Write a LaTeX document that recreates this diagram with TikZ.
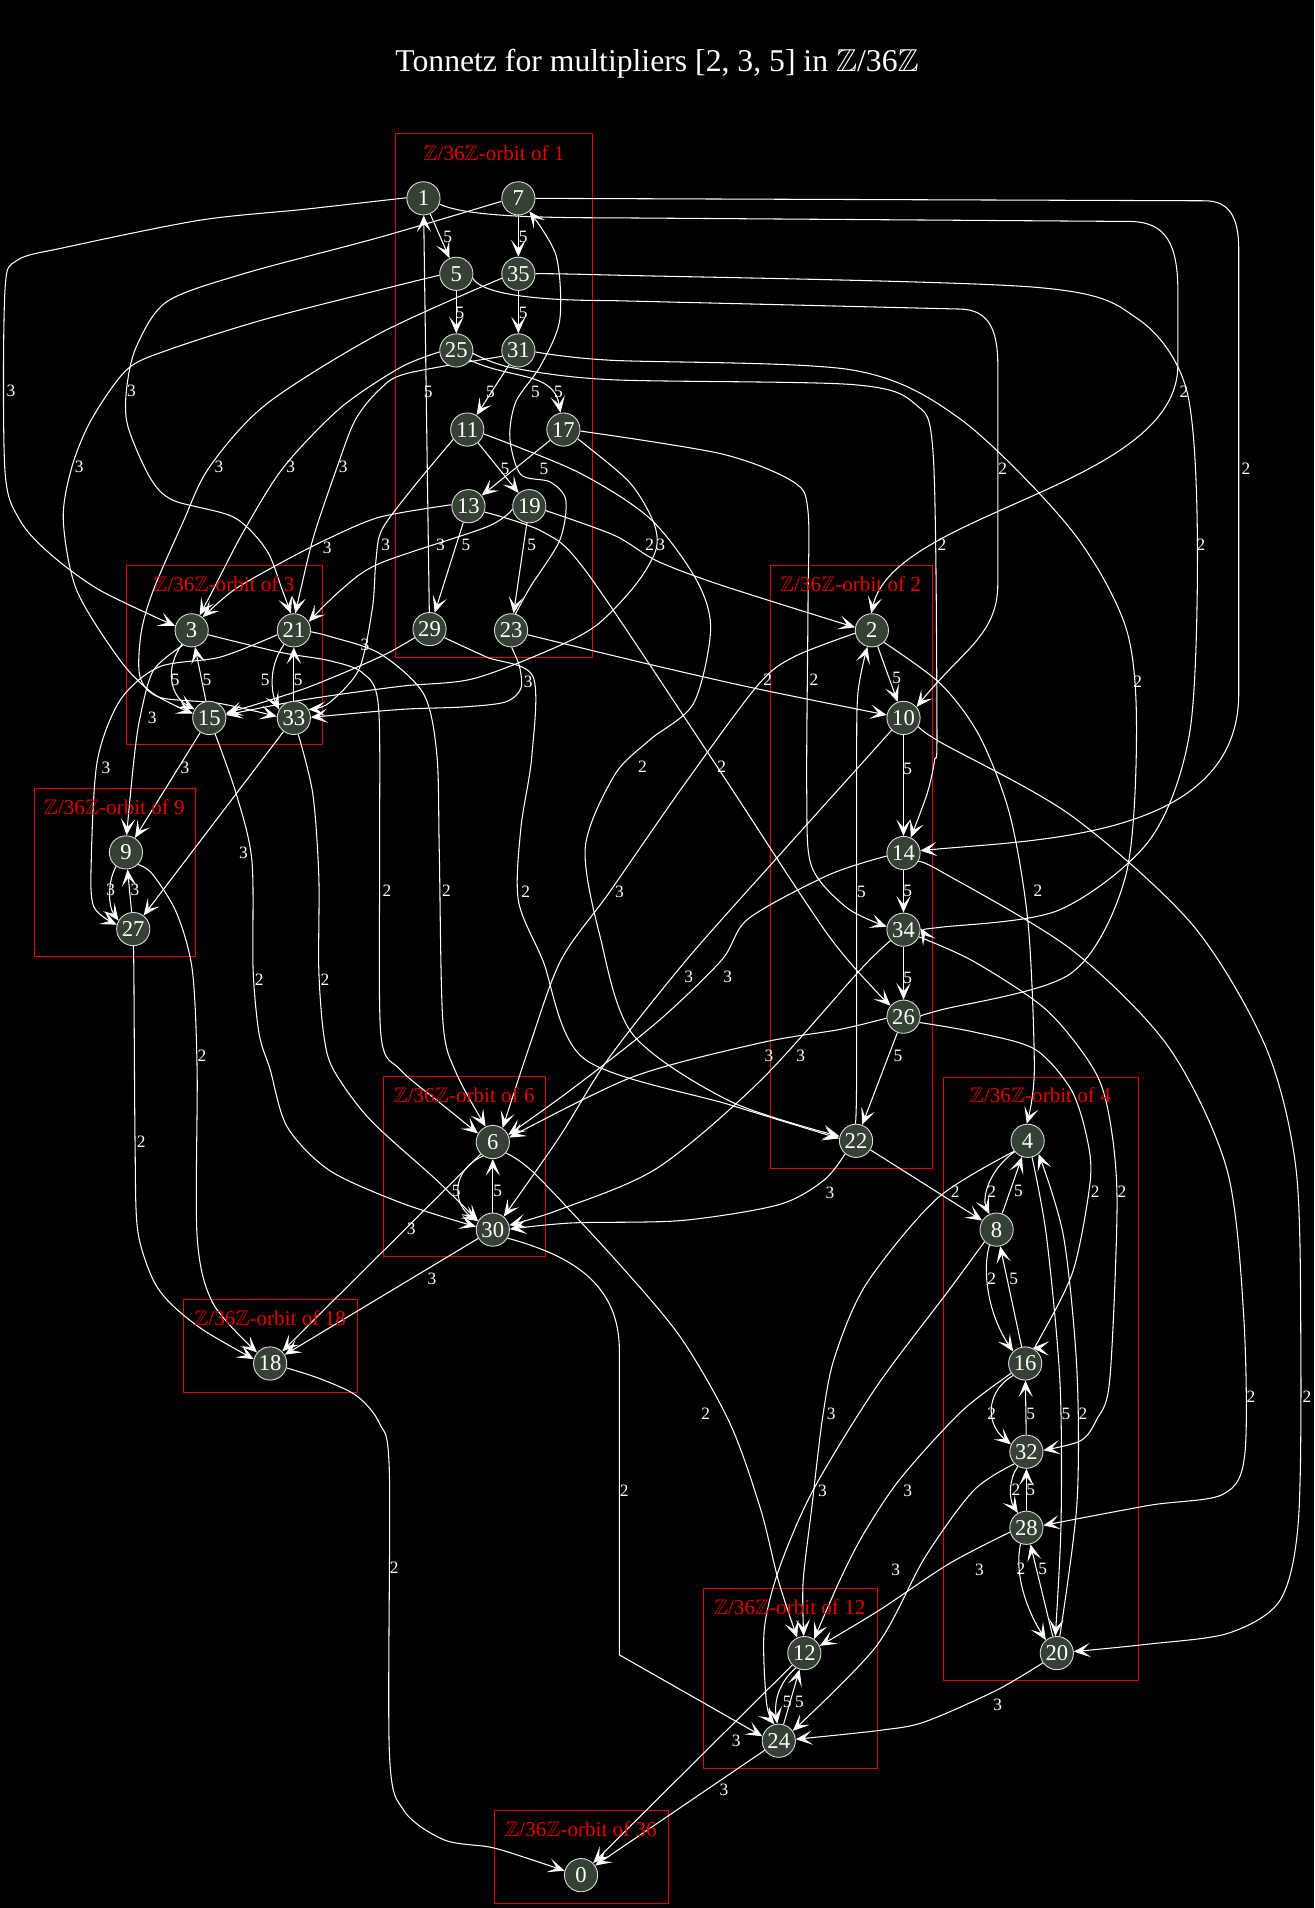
\documentclass[tikz,border=0pt]{standalone}
\usepackage{amssymb}
\usepackage{fontspec}
\setmainfont{Liberation Serif}
\usetikzlibrary{arrows.meta}
\definecolor{ngreen}{RGB}{52,66,52}
\definecolor{clred}{RGB}{230,0,0}
\newcommand{\myZ}{$\mathbb{Z}$}
\pgfdeclarelayer{bgl}
\pgfdeclarelayer{edgel}
\pgfsetlayers{bgl,edgel,main}
\tikzset{
  orbnode/.style={circle, draw=white!85!black, fill=ngreen, text=white, minimum size=22pt, inner sep=0pt, line width=0.6pt, font=\fontsize{15}{17}\selectfont},
  edg/.style={draw=white, line width=0.7pt, -{Stealth[length=11pt,width=9.5pt,inset=5.5pt]}},
  elab/.style={text=white, inner sep=0pt, font=\fontsize{11.5}{13}\selectfont},
  clus/.style={draw=clred, line width=0.7pt},
  cluslab/.style={text=clred, inner sep=0pt, font=\fontsize{14}{16}\selectfont},
  ttl/.style={text=white, inner sep=0pt, font=\fontsize{21}{24}\selectfont}
}
\begin{document}
\begin{tikzpicture}[x=0.806pt,y=-0.806pt]
\useasboundingbox (0,0) rectangle (1080,1568);
\begin{pgfonlayer}{bgl}
\fill[black] (0,0) rectangle (1080,1568);
\draw[clus] (325,110) rectangle (487,540);
\draw[clus] (104,465) rectangle (265,612);
\draw[clus] (28,648) rectangle (161,786);
\draw[clus] (633.5,465) rectangle (766.5,960);
\draw[clus] (775,885.5) rectangle (936,1381);
\draw[clus] (315,885) rectangle (448.5,1032.5);
\draw[clus] (150.5,1068) rectangle (293.5,1144);
\draw[clus] (578,1305.5) rectangle (721,1453);
\draw[clus] (406,1488) rectangle (549.5,1564);
\end{pgfonlayer}
\node[ttl] (title) at (540,52) {Tonnetz for multipliers [2, 3, 5] in \myZ/36\myZ};
\node[cluslab] (c1) at (406,126) {\myZ/36\myZ-orbit of 1};
\node[cluslab] (c3) at (184,480) {\myZ/36\myZ-orbit of 3};
\node[cluslab] (c9) at (94,663) {\myZ/36\myZ-orbit of 9};
\node[cluslab] (c2) at (699,480) {\myZ/36\myZ-orbit of 2};
\node[cluslab] (c4) at (855,900) {\myZ/36\myZ-orbit of 4};
\node[cluslab] (c6) at (381.5,900) {\myZ/36\myZ-orbit of 6};
\node[cluslab] (c18) at (222,1083.5) {\myZ/36\myZ-orbit of 18};
\node[cluslab] (c12) at (649,1320.5) {\myZ/36\myZ-orbit of 12};
\node[cluslab] (c36) at (477.5,1503.5) {\myZ/36\myZ-orbit of 36};
% nodes
\node[orbnode] (n1) at (348,163) {1};
\node[orbnode] (n7) at (426,163) {7};
\node[orbnode] (n5) at (375,225) {5};
\node[orbnode] (n35) at (426,225) {35};
\node[orbnode] (n25) at (375,288) {25};
\node[orbnode] (n31) at (426,288) {31};
\node[orbnode] (n11) at (384,353) {11};
\node[orbnode] (n17) at (463,353) {17};
\node[orbnode] (n13) at (385,416) {13};
\node[orbnode] (n19) at (435,416) {19};
\node[orbnode] (n29) at (353,517) {29};
\node[orbnode] (n23) at (420,518) {23};
\node[orbnode] (n3) at (157.5,518) {3};
\node[orbnode] (n21) at (241.5,518) {21};
\node[orbnode] (n15) at (172,590) {15};
\node[orbnode] (n33) at (241.5,590) {33};
\node[orbnode] (n9) at (103.5,700.5) {9};
\node[orbnode] (n27) at (109.5,763.5) {27};
\node[orbnode] (n2) at (716.5,518) {2};
\node[orbnode] (n10) at (742.5,590) {10};
\node[orbnode] (n14) at (742.5,701) {14};
\node[orbnode] (n34) at (742.5,764) {34};
\node[orbnode] (n26) at (742.5,835.5) {26};
\node[orbnode] (n22) at (703.5,937.5) {22};
\node[orbnode] (n4) at (844.5,937.5) {4};
\node[orbnode] (n8) at (819,1010.5) {8};
\node[orbnode] (n16) at (842.5,1120.5) {16};
\node[orbnode] (n32) at (843.5,1193) {32};
\node[orbnode] (n28) at (843.5,1255.5) {28};
\node[orbnode] (n20) at (868.5,1358.5) {20};
\node[orbnode] (n6) at (405,938.5) {6};
\node[orbnode] (n30) at (405,1010.5) {30};
\node[orbnode] (n18) at (222,1120.5) {18};
\node[orbnode] (n12) at (661,1358.5) {12};
\node[orbnode] (n24) at (640,1430.5) {24};
\node[orbnode] (n0) at (477.5,1541) {0};
\begin{pgfonlayer}{edgel}
% orbit 1, times 5
\draw[edg] (n1) -- (n5);
\draw[edg] (n7) -- (n35);
\draw[edg] (n5) -- (n25);
\draw[edg] (n35) -- (n31);
\draw[edg] (n31) -- (n11);
\draw[edg] (n25.-35) .. controls (420,312) and (455,305) .. (n17.100);
\draw[edg] (n11) -- (n19);
\draw[edg] (n17) -- (n13);
\draw[edg] (n13) -- (n29);
\draw[edg] (n19) -- (n23);
\draw[edg] (n29) -- (n1);
\draw[edg] plot[smooth] coordinates {(n23.75) (436,482) (460,444) (465,411) (452,396) (428,390) (419,360) (424,330) (444,301) (460,263) (457,210) (n7.-50)};
% units times 2
\draw[edg] (n1.-20) .. controls (380,176) and (420,179) .. (501,179) -- (930,182) .. controls (958,183) and (968,200) .. (968,240) -- (968,300) .. controls (968,400) and (735,420) .. (n2.92);
\draw[edg] (n7.0) -- (990,165) .. controls (1010,165) and (1018,178) .. (1018,205) -- (1018,570) .. controls (1018,690) and (850,690) .. (n14.8);
\draw[edg] (n5.-15) .. controls (395,240) and (430,247) .. (501,247) -- (790,254) .. controls (812,255) and (820,270) .. (820,300) -- (820,480) .. controls (820,522) and (790,535) .. (n10.40);
\draw[edg] plot[smooth] coordinates {(n35.0) (501,226) (850,236) (935,262) (975,320) (984,440) (978,600) (945,690) (870,748) (773,762) (n34.5)};
\draw[edg] plot[smooth] coordinates {(n25.-10) (420,302) (501,312) (700,316) (752,332) (767,375) (770,600) (768,625) (762,652) (n14.65)};
\draw[edg] plot[smooth] coordinates {(n31.-5) (501,296) (700,304) (790,345) (880,435) (925,515) (934,600) (925,720) (880,800) (773,830) (n26.5)};
\draw[edg] plot[smooth] coordinates {(n11.-15) (475,388) (534,426) (572,476) (584,517) (570,578) (534,608) (505,637) (481,696) (493,769) (520,850) (600,905) (n22.165)};
\draw[edg] plot[smooth] coordinates {(n13.-20) (446,437) (482,470) (588,628) (681,769) (n26.140)};
\draw[edg] plot[smooth] coordinates {(n17.-5) (593,373) (652,396) (664,420) (664,500) (663,652) (667,712) (696,746) (n34.170)};
\draw[edg] plot[smooth] coordinates {(n19.-15) (505,440) (540,461) (593,481) (n2.170)};
\draw[edg] plot[smooth] coordinates {(n23.-15) (534,546) (622,566) (n10.170)};
\draw[edg] plot[smooth] coordinates {(n29.-30) (400,540) (438,556) (437,622) (428,681) (426,740) (446,789) (480,870) (600,908) (n22.172)};
% units times 3
\draw[edg] plot[smooth] coordinates {(n1.178) (250,172) (164,181) (55,203) (14,214) (4,240) (4,386) (16,427) (41,455) (82,485) (n3.165)};
\draw[edg] plot[smooth] coordinates {(n7.190) (312,195) (200,225) (137,248) (112,285) (104,320) (105,350) (123,392) (142,411) (192,425) (219,452) (232,485) (n21.100)};
\draw[edg] plot[smooth] coordinates {(n5.185) (329,234) (219,262) (137,288) (104,304) (75,345) (59,384) (52,427) (63,485) (99,543) (126,570) (n15.165)};
\draw[edg] plot[smooth] coordinates {(n35.195) (312,274) (219,332) (172,384) (150,430) (126,485) (116,520) (115,556) (131,573) (180,578) (n33.175)};
\draw[edg] plot[smooth] coordinates {(n25.185) (329,302) (280,335) (233,384) (200,437) (175,485) (n3.62)};
\draw[edg] plot[smooth] coordinates {(n31.200) (334,307) (312,320) (292,345) (277,384) (258,440) (247,485) (n21.85)};
\draw[edg] plot[smooth] coordinates {(n11.215) (340,400) (314,435) (309,460) (306,500) (295,550) (270,578) (n33.30)};
\draw[edg] plot[smooth] coordinates {(n13.175) (312,425) (269,443) (230,463) (192,485) (n3.50)};
\draw[edg] plot[smooth] coordinates {(n19.190) (400,433) (312,463) (280,485) (n21.30)};
\draw[edg] plot[smooth] coordinates {(n17.-33) (517,396) (537,429) (539,452) (522,481) (490,514) (452,534) (388,558) (329,564) (250,575) (n15.10)};
\draw[edg] plot[smooth] coordinates {(n29.210) (312,540) (250,566) (n15.15)};
\draw[edg] plot[smooth] coordinates {(n23.-88) (427,548) (428,566) (415,577) (380,581) (329,583) (n33.2)};
% orbit 3
\draw[edg] (n3.235) .. controls (135,550) and (140,572) .. (n15.150);
\draw[edg] (n15) -- (n3);
\draw[edg] (n21.235) .. controls (219,550) and (224,572) .. (n33.150);
\draw[edg] (n33) -- (n21);
\draw[edg] plot[smooth] coordinates {(n3.240) (126,551) (115,590) (110,625) (n9.88)};
\draw[edg] (n15) -- (n9);
\draw[edg] plot[smooth] coordinates {(n21.195) (181,540) (131,548) (99,575) (80,625) (75,707) (77,745) (n27.165)};
\draw[edg] (n33) -- (n27);
\draw[edg] plot[smooth] coordinates {(n3.-15) (230,536) (271,543) (298,553) (311,580) (312,700) (313,850) (329,879) (360,905) (n6.150)};
\draw[edg] plot[smooth] coordinates {(n21.-5) (271,523) (312,537) (348,570) (359,620) (361,700) (364,840) (375,882) (n6.115)};
\draw[edg] plot[smooth] coordinates {(n15.-70) (194,652) (207,707) (208,797) (213,850) (222,879) (236,926) (271,962) (331,989) (n30.170)};
\draw[edg] plot[smooth] coordinates {(n33.-75) (257,652) (262,720) (262,797) (266,850) (274,879) (304,920) (359,970) (n30.150)};
% orbit 9
\draw[edg] (n9.235) .. controls (88,725) and (89,745) .. (n27.150);
\draw[edg] (n27) -- (n9);
\draw[edg] plot[smooth] coordinates {(n9.-45) (125,718) (145,750) (158,797) (162,880) (162,1016) (175,1071) (n18.140)};
\draw[edg] plot[smooth] coordinates {(n27.-90) (110,797) (111,940) (113,1010) (125,1050) (140,1071) (167,1093) (n18.165)};
% orbit 2 times 5
\draw[edg] (n2) -- (n10);
\draw[edg] (n10) -- (n14);
\draw[edg] (n14) -- (n34);
\draw[edg] (n34) -- (n26);
\draw[edg] (n26) -- (n22);
\draw[edg] plot[smooth] coordinates {(n22.92) (704,880) (704,640) (705,570) (n2.255)};
% orbit 2 times 2
\draw[edg] plot[smooth] coordinates {(n2.-45) (773,562) (805,605) (830,670) (845,760) (850,880) (n4.93)};
\draw[edg] plot[smooth] coordinates {(n10.-30) (773,610) (880,670) (980,760) (1040,860) (1065,960) (1069,1100) (1067,1250) (1052,1315) (1010,1342) (945,1351) (n20.5)};
\draw[edg] plot[smooth] coordinates {(n14.-30) (773,716) (880,780) (960,860) (1008,960) (1022,1080) (1023,1195) (1005,1228) (945,1237) (n28.8)};
\draw[edg] (n22) -- (n8);
\draw[edg] plot[smooth] coordinates {(n26.-20) (800,848) (850,862) (880,895) (893,934) (896,970) (882,1044) (855,1099) (n16.65)};
\draw[edg] plot[smooth] coordinates {(n34.-25) (800,790) (860,830) (899,879) (912,920) (918,989) (912,1134) (901,1167) (888,1184) (n32.5)};
% orbit 2 times 3
\draw[edg] plot[smooth] coordinates {(n2.190) (652,540) (622,564) (560,648) (501,733) (461,789) (435,860) (n6.55)};
\draw[edg] plot[smooth] coordinates {(n10.225) (731,602) (634,710) (564,789) (500,870) (460,934) (n30.50)};
\draw[edg] plot[smooth] coordinates {(n14.190) (681,719) (615,755) (593,789) (540,840) (470,895) (n6.25)};
\draw[edg] plot[smooth] coordinates {(n26.185) (690,846) (625,857) (520,885) (n6.15)};
\draw[edg] plot[smooth] coordinates {(n34.220) (707,797) (625,888) (540,960) (460,994) (n30.15)};
\draw[edg] plot[smooth] coordinates {(n22.230) (677,970) (640,990) (560,1003) (470,1005) (n30.2)};
% orbit 4
\draw[edg] (n4.220) .. controls (812,962) and (807,985) .. (n8.115);
\draw[edg] (n8) -- (n4);
\draw[edg] (n8.245) .. controls (807,1045) and (812,1080) .. (n16.135);
\draw[edg] (n16) -- (n8);
\draw[edg] (n16.225) .. controls (812,1142) and (808,1168) .. (n32.155);
\draw[edg] (n32) -- (n16);
\draw[edg] (n32.240) .. controls (829,1215) and (829,1232) .. (n28.120);
\draw[edg] (n28) -- (n32);
\draw[edg] (n28.250) .. controls (833,1295) and (845,1325) .. (n20.130);
\draw[edg] (n20) -- (n28);
\draw[edg] plot[smooth] coordinates {(n4.-75) (860,1016) (871,1134) (872,1250) (n20.95)};
\draw[edg] plot[smooth] coordinates {(n20.80) (885,1236) (885,1126) (874,1016) (n4.-50)};
% orbit 4 times 3
\draw[edg] plot[smooth] coordinates {(n4.218) (770,985) (712,1055) (686,1115) (676,1165) (667,1240) (660,1300) (n12.92)};
\draw[edg] plot[smooth] coordinates {(n8.225) (780,1060) (720,1140) (668,1225) (640,1290) (628,1340) (630,1400) (n24.105)};
\draw[edg] plot[smooth] coordinates {(n16.215) (790,1160) (740,1215) (710,1260) (690,1299) (n12.55)};
\draw[edg] plot[smooth] coordinates {(n32.225) (800,1225) (760,1280) (720,1353) (n24.35)};
\draw[edg] plot[smooth] coordinates {(n28.195) (780,1285) (723,1323) (n12.25)};
\draw[edg] plot[smooth] coordinates {(n20.215) (819,1389) (760,1415) (723,1422) (n24.5)};
% orbit 6
\draw[edg] (n6.235) .. controls (370,962) and (372,990) .. (n30.150);
\draw[edg] (n30) -- (n6);
\draw[edg] plot[smooth] coordinates {(n6.-40) (440,965) (510,1040) (560,1100) (600,1170) (625,1240) (640,1300) (n12.115)};
\draw[edg] (n30.-30) .. controls (470,1032) and (509,1055) .. (509,1110) -- (509,1360) -- (n24.165);
\draw[edg] (n6) -- (n18);
\draw[edg] (n30) -- (n18);
% orbit 18
\draw[edg] plot[smooth] coordinates {(n18.-15) (263,1133) (293,1147) (312,1170) (320,1210) (320,1440) (332,1488) (365,1512) (403,1518) (430,1526) (n0.165)};
% orbit 12
\draw[edg] (n12.240) .. controls (640,1383) and (636,1398) .. (n24.95);
\draw[edg] (n24) -- (n12);
\draw[edg] (n12) -- (n0);
\draw[edg] (n24) -- (n0);
\end{pgfonlayer}
% edge labels
\node[elab] (a1) at (368,195) {5};
\node[elab] (a2) at (430,195) {5};
\node[elab] (a3) at (378,257) {5};
\node[elab] (a4) at (430,257) {5};
\node[elab] (a5) at (403,322) {5};
\node[elab] (a6) at (459,322) {5};
\node[elab] (a7) at (440,322) {5};
\node[elab] (a8) at (352,322) {5};
\node[elab] (a9) at (415,385) {5};
\node[elab] (a10) at (447,385) {5};
\node[elab] (a11) at (383,448) {5};
\node[elab] (a12) at (437,448) {5};
\node[elab] (b1) at (973,322) {2};
\node[elab] (b2) at (1024,385) {2};
\node[elab] (b3) at (824,385) {2};
\node[elab] (b4) at (987,448) {2};
\node[elab] (b5) at (774,448) {2};
\node[elab] (b6) at (935,560) {2};
\node[elab] (b7) at (528,630) {2};
\node[elab] (b8) at (593,630) {2};
\node[elab] (b9) at (669,559) {2};
\node[elab] (b10) at (534,448) {2};
\node[elab] (b11) at (631,559) {2};
\node[elab] (b12) at (432,733) {2};
\node[elab] (d1) at (9,321) {3};
\node[elab] (d2) at (108,321) {3};
\node[elab] (d3) at (65,384) {3};
\node[elab] (d4) at (180,384) {3};
\node[elab] (d5) at (239,384) {3};
\node[elab] (d6) at (282,384) {3};
\node[elab] (d7) at (317,448) {3};
\node[elab] (d8) at (269,450) {3};
\node[elab] (d9) at (362,448) {3};
\node[elab] (d10) at (543,448) {3};
\node[elab] (d11) at (300,530) {3};
\node[elab] (d12) at (434,560) {3};
\node[elab] (f1) at (144,559) {5};
\node[elab] (f2) at (170,559) {5};
\node[elab] (f3) at (218,559) {5};
\node[elab] (f4) at (245,559) {5};
\node[elab] (f5) at (125,590) {3};
\node[elab] (f6) at (152,631) {3};
\node[elab] (f7) at (87,631) {3};
\node[elab] (f8) at (200,701) {3};
\node[elab] (f9) at (318,732) {2};
\node[elab] (f10) at (367,732) {2};
\node[elab] (f11) at (213,805) {2};
\node[elab] (f12) at (267,805) {2};
\node[elab] (g1) at (91,731) {3};
\node[elab] (g2) at (111,731) {3};
\node[elab] (g3) at (166,868) {2};
\node[elab] (g4) at (116,938) {2};
\node[elab] (h1) at (737,557) {5};
\node[elab] (h2) at (746,632) {5};
\node[elab] (h3) at (746,732) {5};
\node[elab] (h4) at (746,804) {5};
\node[elab] (h5) at (738,868) {5};
\node[elab] (h6) at (708,733) {5};
\node[elab] (i1) at (853,732) {2};
\node[elab] (i2) at (1074,1148) {2};
\node[elab] (i3) at (1028,1148) {2};
\node[elab] (i4) at (785,979) {2};
\node[elab] (i5) at (900,979) {2};
\node[elab] (i6) at (922,979) {2};
\node[elab] (j1) at (509,733) {3};
\node[elab] (j2) at (566,803) {3};
\node[elab] (j3) at (598,803) {3};
\node[elab] (j4) at (632,868) {3};
\node[elab] (j5) at (658,868) {3};
\node[elab] (j6) at (682,980) {3};
\node[elab] (k1) at (815,979) {2};
\node[elab] (k2) at (837,979) {5};
\node[elab] (k3) at (815,1051) {2};
\node[elab] (k4) at (833,1051) {5};
\node[elab] (k5) at (815,1162) {2};
\node[elab] (k6) at (847,1162) {5};
\node[elab] (k7) at (835,1224) {2};
\node[elab] (k8) at (847,1224) {5};
\node[elab] (k9) at (839,1289) {2};
\node[elab] (k10) at (857,1289) {5};
\node[elab] (k11) at (876,1162) {5};
\node[elab] (k12) at (890,1162) {2};
\node[elab] (m1) at (683,1162) {3};
\node[elab] (m2) at (676,1225) {3};
\node[elab] (m3) at (746,1225) {3};
\node[elab] (m4) at (736,1290) {3};
\node[elab] (m5) at (805,1290) {3};
\node[elab] (m6) at (820,1401) {3};
\node[elab] (p1) at (375,979) {5};
\node[elab] (p2) at (409,979) {5};
\node[elab] (p3) at (580,1162) {2};
\node[elab] (p4) at (513,1225) {2};
\node[elab] (p5) at (338,1010) {3};
\node[elab] (p6) at (355,1051) {3};
\node[elab] (q1) at (324,1288) {2};
\node[elab] (q2) at (647,1399) {5};
\node[elab] (q3) at (657,1399) {5};
\node[elab] (q4) at (605,1431) {3};
\node[elab] (q5) at (595,1471) {3};
\end{tikzpicture}
\end{document}
